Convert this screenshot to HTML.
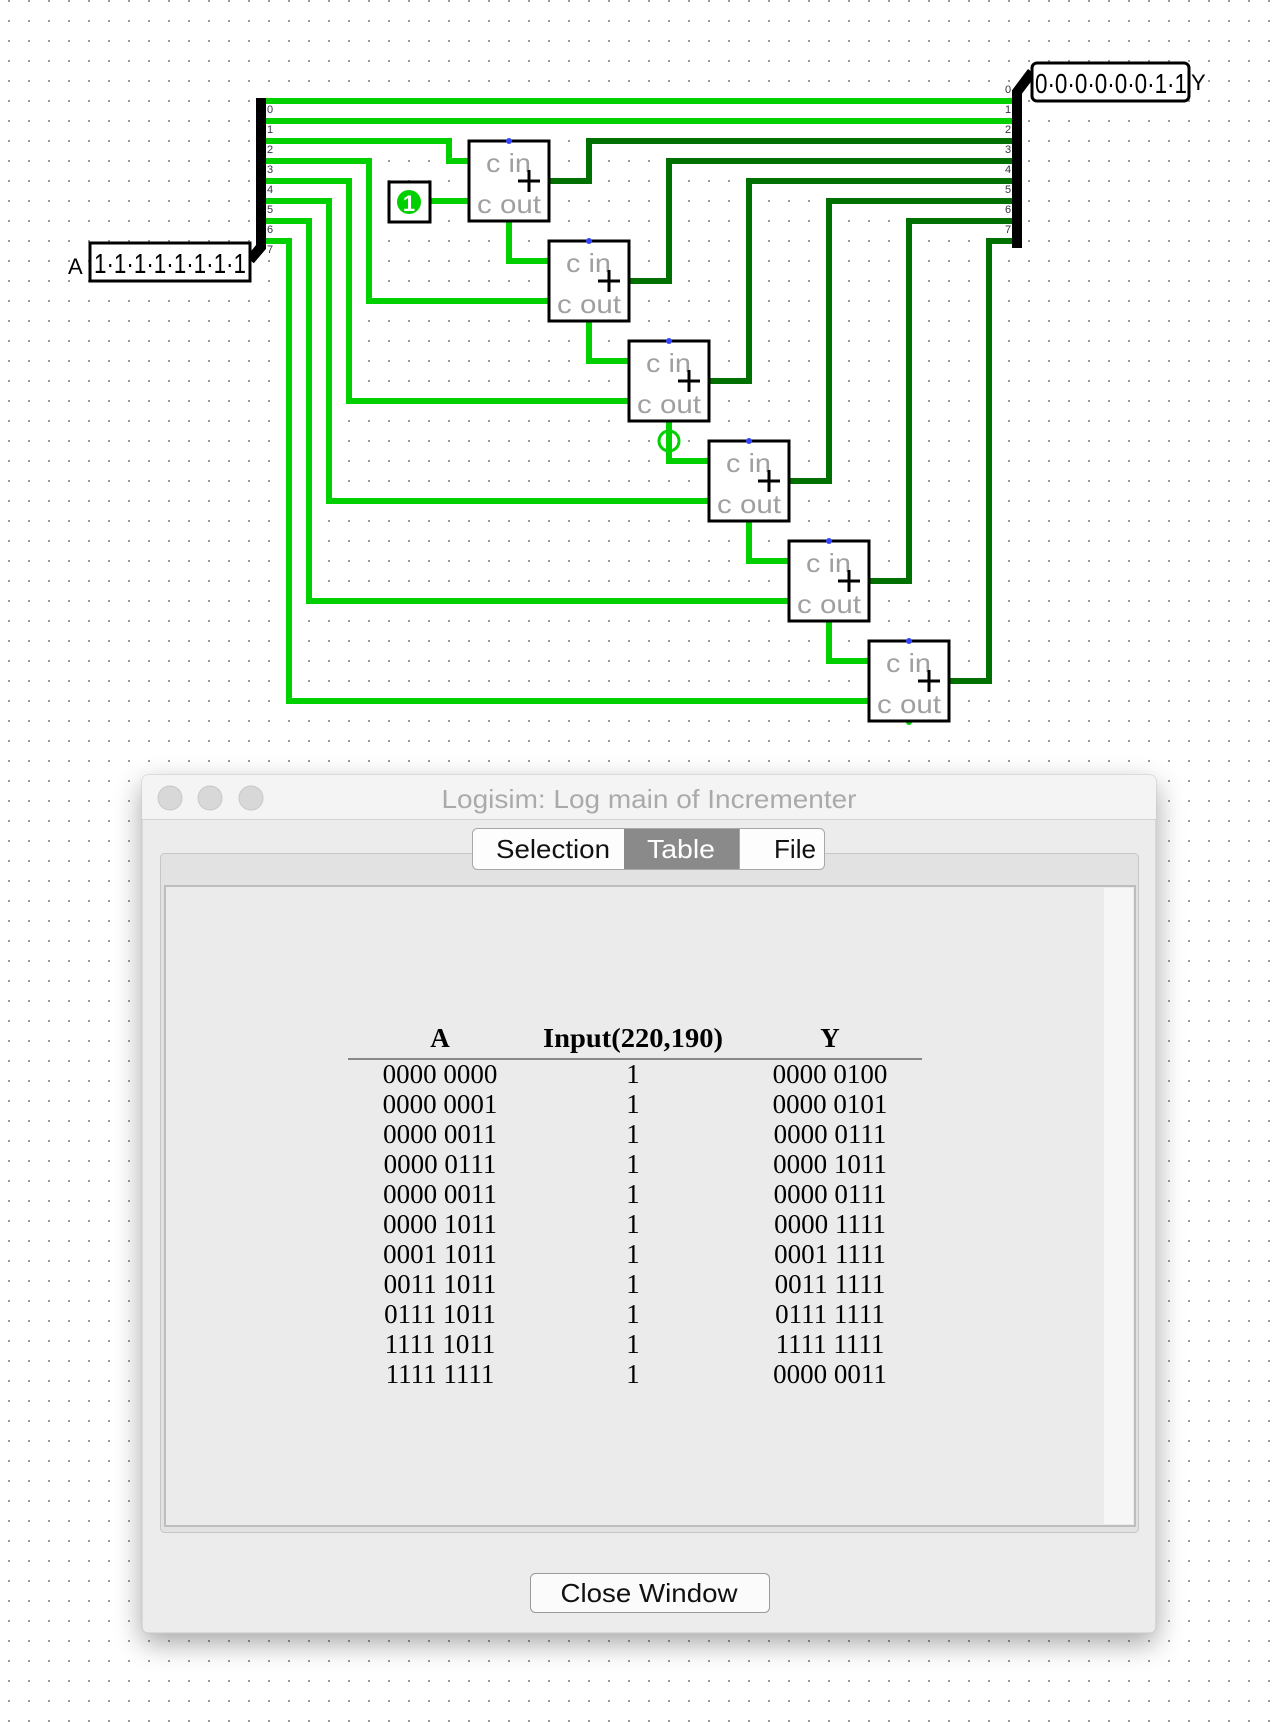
<!DOCTYPE html>
<html><head><meta charset="utf-8"><style>
html,body{margin:0;padding:0;background:#fff;}
svg{display:block;}
</style></head><body>
<svg width="1288" height="1722" viewBox="0 0 1288 1722" xmlns="http://www.w3.org/2000/svg">
<defs>
<pattern id="grid" x="8" y="0" width="20" height="20" patternUnits="userSpaceOnUse">
<rect x="0" y="0" width="2" height="2" fill="#999"/>
</pattern>
<filter id="sh" x="-10%" y="-10%" width="120%" height="125%">
<feGaussianBlur in="SourceAlpha" stdDeviation="14"/>
<feOffset dy="10"/>
<feComponentTransfer><feFuncA type="linear" slope="0.35"/></feComponentTransfer>
<feMerge><feMergeNode/><feMergeNode in="SourceGraphic"/></feMerge>
</filter>
</defs>
<rect width="1288" height="1722" fill="#fff"/>
<rect width="1288" height="1722" fill="url(#grid)"/>

<g fill="none" stroke-linejoin="miter" stroke-linecap="square">
<g stroke="#00d000" stroke-width="6">
<path d="M261 101H1017"/>
<path d="M261 121H1017"/>
<path d="M261 141H449V161H469"/>
<path d="M261 161H369V301H549"/>
<path d="M261 181H349V401H629"/>
<path d="M261 201H329V501H709"/>
<path d="M261 221H309V601H789"/>
<path d="M261 241H289V701H869"/>
<path d="M430 201H469"/>
<path d="M509 221V261H549"/>
<path d="M589 321V361H629"/>
<path d="M669 421V461H709"/>
<path d="M749 521V561H789"/>
<path d="M829 621V661H869"/>
</g>
<g stroke="#007000" stroke-width="6">
<path d="M549 181H589V141H1017"/>
<path d="M629 281H669V161H1017"/>
<path d="M709 381H749V181H1017"/>
<path d="M789 481H829V201H1017"/>
<path d="M869 581H909V221H1017"/>
<path d="M949 681H989V241H1017"/>
</g>
<path d="M261 98V247L250 260" stroke="#000" stroke-width="10" stroke-linecap="butt"/>
<path d="M1017 248V92L1032 72" stroke="#000" stroke-width="10" stroke-linecap="butt"/>
</g>
<circle cx="669" cy="441" r="10" fill="none" stroke="#00d000" stroke-width="3"/>
<circle cx="909" cy="722" r="3" fill="#00d000"/>

<g font-family="Liberation Sans, sans-serif" font-size="11" fill="#334">
<text x="267" y="113">0</text><text x="267" y="133">1</text><text x="267" y="153">2</text><text x="267" y="173">3</text>
<text x="267" y="193">4</text><text x="267" y="213">5</text><text x="267" y="233">6</text><text x="267" y="253">7</text>
<text x="1005" y="93">0</text><text x="1005" y="113">1</text><text x="1005" y="133">2</text><text x="1005" y="153">3</text>
<text x="1005" y="173">4</text><text x="1005" y="193">5</text><text x="1005" y="213">6</text><text x="1005" y="233">7</text>
</g>

<rect x="90" y="243" width="160" height="38" fill="#fff" stroke="#000" stroke-width="3"/>
<text x="68" y="274" font-family="Liberation Sans, sans-serif" font-size="22" fill="#000">A</text>
<text x="94" y="273" font-family="Liberation Sans, sans-serif" font-size="28" fill="#000" textLength="152" lengthAdjust="spacingAndGlyphs">1·1·1·1·1·1·1·1</text>
<rect x="1032" y="63" width="157" height="38" rx="5" fill="#fff" stroke="#000" stroke-width="3"/>
<text x="1035" y="93" font-family="Liberation Sans, sans-serif" font-size="28" fill="#000" textLength="152" lengthAdjust="spacingAndGlyphs">0·0·0·0·0·0·1·1</text>
<text x="1191" y="90" font-family="Liberation Sans, sans-serif" font-size="22" fill="#000">Y</text>

<rect x="389" y="182" width="41" height="40" fill="#fff" stroke="#000" stroke-width="3"/>
<circle cx="409" cy="202" r="12" fill="#00d000"/>
<text x="409" y="211" text-anchor="middle" font-family="Liberation Sans, sans-serif" font-size="22" font-weight="bold" fill="#fff">1</text>

<g font-family="Liberation Sans, sans-serif" font-size="26" fill="#a0a0a0">
<g transform="translate(469,141)"><rect x="0" y="0" width="80" height="80" fill="#fff" stroke="#000" stroke-width="3"/><circle cx="40" cy="0" r="3" fill="#3344ff"/><text x="17" y="31" textLength="45" lengthAdjust="spacingAndGlyphs">c in</text><text x="8" y="72" textLength="64" lengthAdjust="spacingAndGlyphs">c out</text><path d="M49 40H71M60 29V51" stroke="#000" stroke-width="3"/></g>
<g transform="translate(549,241)"><rect x="0" y="0" width="80" height="80" fill="#fff" stroke="#000" stroke-width="3"/><circle cx="40" cy="0" r="3" fill="#3344ff"/><text x="17" y="31" textLength="45" lengthAdjust="spacingAndGlyphs">c in</text><text x="8" y="72" textLength="64" lengthAdjust="spacingAndGlyphs">c out</text><path d="M49 40H71M60 29V51" stroke="#000" stroke-width="3"/></g>
<g transform="translate(629,341)"><rect x="0" y="0" width="80" height="80" fill="#fff" stroke="#000" stroke-width="3"/><circle cx="40" cy="0" r="3" fill="#3344ff"/><text x="17" y="31" textLength="45" lengthAdjust="spacingAndGlyphs">c in</text><text x="8" y="72" textLength="64" lengthAdjust="spacingAndGlyphs">c out</text><path d="M49 40H71M60 29V51" stroke="#000" stroke-width="3"/></g>
<g transform="translate(709,441)"><rect x="0" y="0" width="80" height="80" fill="#fff" stroke="#000" stroke-width="3"/><circle cx="40" cy="0" r="3" fill="#3344ff"/><text x="17" y="31" textLength="45" lengthAdjust="spacingAndGlyphs">c in</text><text x="8" y="72" textLength="64" lengthAdjust="spacingAndGlyphs">c out</text><path d="M49 40H71M60 29V51" stroke="#000" stroke-width="3"/></g>
<g transform="translate(789,541)"><rect x="0" y="0" width="80" height="80" fill="#fff" stroke="#000" stroke-width="3"/><circle cx="40" cy="0" r="3" fill="#3344ff"/><text x="17" y="31" textLength="45" lengthAdjust="spacingAndGlyphs">c in</text><text x="8" y="72" textLength="64" lengthAdjust="spacingAndGlyphs">c out</text><path d="M49 40H71M60 29V51" stroke="#000" stroke-width="3"/></g>
<g transform="translate(869,641)"><rect x="0" y="0" width="80" height="80" fill="#fff" stroke="#000" stroke-width="3"/><circle cx="40" cy="0" r="3" fill="#3344ff"/><text x="17" y="31" textLength="45" lengthAdjust="spacingAndGlyphs">c in</text><text x="8" y="72" textLength="64" lengthAdjust="spacingAndGlyphs">c out</text><path d="M49 40H71M60 29V51" stroke="#000" stroke-width="3"/></g>
</g>

<g filter="url(#sh)">
<rect x="142" y="775" width="1014" height="858" rx="6" fill="#ececec" stroke="#c8c8c8" stroke-width="1"/>
</g>
<path d="M148 775H1150A6 6 0 0 1 1156 781V819H142V781A6 6 0 0 1 148 775Z" fill="#f4f4f4"/>
<line x1="142" y1="819.5" x2="1156" y2="819.5" stroke="#d2d2d2"/>
<circle cx="170" cy="798" r="12" fill="#d8d8d8" stroke="#c8c8c8"/>
<circle cx="210" cy="798" r="12" fill="#d8d8d8" stroke="#c8c8c8"/>
<circle cx="251" cy="798" r="12" fill="#d8d8d8" stroke="#c8c8c8"/>
<text x="649" y="808" text-anchor="middle" font-family="Liberation Sans, sans-serif" font-size="26" fill="#aaaaaa" textLength="415" lengthAdjust="spacingAndGlyphs">Logisim: Log main of Incrementer</text>

<rect x="160.5" y="853.5" width="978" height="679" rx="4" fill="#e2e2e2" stroke="#c6c6c6"/>
<rect x="165" y="886" width="970" height="640" fill="#ebebeb" stroke="#bdbdbd" stroke-width="2"/>
<rect x="1104" y="888" width="29" height="636" fill="#f6f6f6"/>

<rect x="472.5" y="828.5" width="352" height="41" rx="5" fill="#fdfdfd" stroke="#a8a8a8"/>
<rect x="624" y="829" width="115" height="40" fill="#8a8a8a"/>
<line x1="739.5" y1="829" x2="739.5" y2="869" stroke="#a8a8a8"/>
<g font-family="Liberation Sans, sans-serif" font-size="26" text-anchor="middle">
<text x="553" y="858" fill="#111" textLength="114" lengthAdjust="spacingAndGlyphs">Selection</text>
<text x="681" y="858" fill="#fff" textLength="68" lengthAdjust="spacingAndGlyphs">Table</text>
<text x="795" y="858" fill="#111" textLength="42" lengthAdjust="spacingAndGlyphs">File</text>
</g>

<g font-family="Liberation Serif, serif" font-size="27" fill="#000" text-anchor="middle">
<g font-weight="bold">
<text x="440" y="1047">A</text><text x="633" y="1047" textLength="180" lengthAdjust="spacingAndGlyphs">Input(220,190)</text><text x="830" y="1047">Y</text>
</g>
<line x1="348" y1="1059" x2="922" y2="1059" stroke="#888" stroke-width="2"/>
<text x="440" y="1083">0000 0000</text><text x="633" y="1083">1</text><text x="830" y="1083">0000 0100</text>
<text x="440" y="1113">0000 0001</text><text x="633" y="1113">1</text><text x="830" y="1113">0000 0101</text>
<text x="440" y="1143">0000 0011</text><text x="633" y="1143">1</text><text x="830" y="1143">0000 0111</text>
<text x="440" y="1173">0000 0111</text><text x="633" y="1173">1</text><text x="830" y="1173">0000 1011</text>
<text x="440" y="1203">0000 0011</text><text x="633" y="1203">1</text><text x="830" y="1203">0000 0111</text>
<text x="440" y="1233">0000 1011</text><text x="633" y="1233">1</text><text x="830" y="1233">0000 1111</text>
<text x="440" y="1263">0001 1011</text><text x="633" y="1263">1</text><text x="830" y="1263">0001 1111</text>
<text x="440" y="1293">0011 1011</text><text x="633" y="1293">1</text><text x="830" y="1293">0011 1111</text>
<text x="440" y="1323">0111 1011</text><text x="633" y="1323">1</text><text x="830" y="1323">0111 1111</text>
<text x="440" y="1353">1111 1011</text><text x="633" y="1353">1</text><text x="830" y="1353">1111 1111</text>
<text x="440" y="1383">1111 1111</text><text x="633" y="1383">1</text><text x="830" y="1383">0000 0011</text>
</g>

<rect x="530.5" y="1573.5" width="239" height="39" rx="5" fill="#fbfbfb" stroke="#9a9a9a"/>
<text x="649" y="1602" text-anchor="middle" font-family="Liberation Sans, sans-serif" font-size="26" fill="#111" textLength="177" lengthAdjust="spacingAndGlyphs">Close Window</text>
</svg>
</body></html>
